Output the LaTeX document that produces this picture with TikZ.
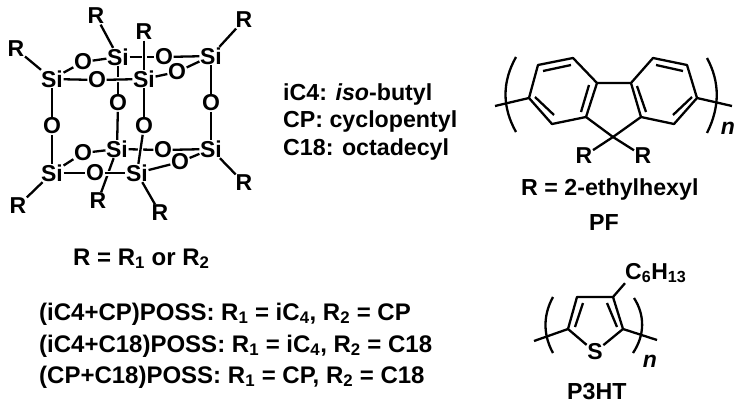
\documentclass[tikz,border=0pt]{standalone}
\usepackage{fontspec}
\setmainfont{Liberation Sans}
\tikzset{
  atom/.style={font=\fontsize{23}{27}\selectfont\bfseries, inner sep=0.5pt},
  label/.style={font=\fontsize{23.2}{28}\selectfont\bfseries, inner sep=0pt, anchor=base west},
  mixlabel/.style={label, font=\fontsize{24}{28}\selectfont\bfseries},
  bond/.style={line width=2.3pt},
  overbond/.style={preaction={draw, white, line width=5pt}, line width=2.3pt}
}
\begin{document}
\begin{tikzpicture}[x=1pt, y=-1pt]
  \useasboundingbox (0,0) rectangle (742,407);
  % cage atoms
  \foreach \name/\x/\y/\txt in {
      sa/52/79/Si, sb/118/57/Si, sc/144/79/Si, sd/211/56/Si,
      se/52/173/Si, sf/117/149/Si, sg/137/173/Si, sh/211/149/Si,
      oa/83/62/O, ob/97/80/O, oc/164/57/O, od/177/72/O,
      oe/52/126/O, of/118/103/O, og/144/126/O, oh/211/103/O,
      oi/83/153/O, oj/95/173/O, ok/163/150/O, ol/180/162/O,
      ra/16/49/R, rb/96/16/R, rc/144/32/R, rd/244/20/R,
      re/18/206/R, rf/98/201/R, rg/160/213/R, rh/244/183/R}
    \node[atom] (\name) at (\x,\y) {\txt};
  % cage bonds
  \foreach \a/\b in {sa/oa, oa/sb, sa/ob, sb/of, of/sf, sc/od, od/sd, oc/sd,
      sa/oe, oe/se, sc/og, sd/oh, oh/sh, se/oi, oi/sf, ok/sh, sg/ol, ol/sh,
      sf/rf, se/re, sg/rg, sh/rh, sd/rd, sa/ra, sb/rb}
    \draw[bond] (\a) -- (\b);
  \draw[overbond] (ob) -- (sc);
  \draw[overbond] (oj) -- (sg);
  \draw[bond] (se) -- (oj);
  \draw[bond] (sb) -- (oc);
  \draw[overbond] (rc) -- (sc);
  \draw[bond] (sf) -- (ok);
  \draw[overbond] (og) -- (sg);
  \node[mixlabel] (rdef) at (73,265) {R = R\textsubscript{1} or R\textsubscript{2}};
  % legend
  \node[label] (ica) at (283,100) {iC4: \textit{iso}-butyl};
  \node[label] (cpa) at (283,127) {CP: cyclopentyl};
  \node[label] (cea) at (283,155) {C18: octadecyl};
  \node[mixlabel] (mixa) at (39,320) {(iC4+CP)POSS: R\textsubscript{1} = iC\textsubscript{4}, R\textsubscript{2} = CP};
  \node[mixlabel] (mixb) at (39,352) {(iC4+C18)POSS: R\textsubscript{1} = iC\textsubscript{4}, R\textsubscript{2} = C18};
  \node[mixlabel] (mixc) at (39,383) {(CP+C18)POSS: R\textsubscript{1} = CP, R\textsubscript{2} = C18};
  % PF
  \foreach \name/\x/\y in {la/529/98, lb/538/65, lc/573/58, ld/597/83, le/586/117, lf/552/124,
      ma/697/98, mb/687/65, mc/653/58, md/631/83, me/641/117, mf/674/124,
      nine/613/137, pfl/495/106, pfr/732/106,
      da/543/71, db/571/65, dc/589/85, dd/581/112, de/535/97, df/554/115,
      dg/656/65, dh/683/71, di/637/86, dj/646/112, dk/692/97, dl/673/115}
    \coordinate (\name) at (\x,\y);
  \node[atom] (pra) at (584,156) {R};
  \node[atom] (prb) at (643,156) {R};
  \draw[bond, line join=round] (la) -- (lb) -- (lc) -- (ld) -- (le) -- (lf) -- cycle;
  \draw[bond, line join=round] (ma) -- (mb) -- (mc) -- (md) -- (me) -- (mf) -- cycle;
  \draw[bond] (ld) -- (md) (le) -- (nine) -- (me) (nine) -- (pra) (nine) -- (prb);
  \draw[bond] (pfl) -- (la) (pfr) -- (ma);
  \draw[bond] (da) -- (db) (dc) -- (dd) (de) -- (df) (dg) -- (dh) (di) -- (dj) (dk) -- (dl);
  \draw[bond] (516,57) .. controls (502,82) and (502,107) .. (516,132);
  \draw[bond] (707,58) .. controls (720,82) and (720,107) .. (707,133);
  \node[atom, font=\fontsize{23}{27}\selectfont\bfseries\itshape] (pfn) at (728,128) {n};
  \node[label] (pfdef) at (521,195) {R = 2-ethylhexyl};
  \node[label] (pfname) at (589,230) {PF};
  % P3HT
  \foreach \name/\x/\y in {ta/568/329, tb/577/297, tc/613/297, td/623/329, tl/534/341, tr/657/340,
      ua/583/303, ub/575/327, uc/607/303, ud/617/327}
    \coordinate (\name) at (\x,\y);
  \node[atom] (sulfur) at (595,352) {S};
  \node[atom, anchor=west, inner sep=0pt] (hexyl) at (625,273) {C\textsubscript{6}H\textsubscript{13}};
  \draw[bond, line join=round] (sulfur) -- (ta) -- (tb) -- (tc) -- (td) -- (sulfur);
  \draw[bond] (tc) -- (hexyl.south west);
  \draw[bond] (tl) -- (ta) (tr) -- (td) (ua) -- (ub) (uc) -- (ud);
  \draw[bond] (553,297) .. controls (543,315) and (543,335) .. (553,353);
  \draw[bond] (634,298) .. controls (645,315) and (645,335) .. (633,353);
  \node[atom, font=\fontsize{23}{27}\selectfont\bfseries\itshape] (ptn) at (650,361) {n};
  \node[label] (ptname) at (567,399) {P3HT};
\end{tikzpicture}
\end{document}
